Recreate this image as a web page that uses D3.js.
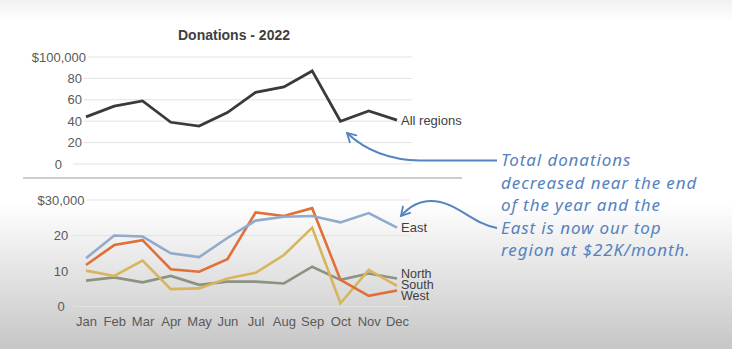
<!DOCTYPE html>
<html>
<head>
<meta charset="utf-8">
<script src="https://cdn.jsdelivr.net/npm/d3@7"></script>
<style>
  body { margin: 0; }
  svg { display: block; font-family: "Liberation Sans", Arial, sans-serif; }
</style>
</head>
<body>
<div class="chart"></div>
<script>
// ---------------- data ----------------
const months = ["Jan","Feb","Mar","Apr","May","Jun","Jul","Aug","Sep","Oct","Nov","Dec"]

// all regions, in $ thousands
const allRegions = [44, 54, 59, 39, 35.5, 48, 67, 72, 87, 40, 49.5, 41]
const topTicks = [0, 20, 40, 60, 80, 100]

// regions, in $ thousands
const east  = [13.6, 20, 19.7, 15, 13.9, 19.3, 24.2, 25.3, 25.5, 23.7, 26.3, 22.2]
const west  = [11.7, 17.3, 18.7, 10.5, 9.8, 13.3, 26.5, 25.5, 27.7, 7.5, 3, 4.5]
const south = [10.1, 8.6, 12.9, 4.9, 5.1, 7.9, 9.5, 14.5, 22.2, 0.9, 10.3, 5.8]
const north = [7.3, 8.2, 6.8, 8.6, 6.1, 7, 7, 6.5, 11.2, 7.5, 9.3, 7.9]
const bottomTicks = [0, 10, 20, 30]

const note = [
  "Total donations",
  "decreased near the end",
  "of the year and the",
  "East is now our top",
  "region at $22K/month."
]

// ---------------- layout ----------------
const width = 732
const height = 349

const svg = d3.select(".chart")
  .append("svg")
  .attr("width", width)
  .attr("height", height)

// video-ish background: white fading to grey
const defs = svg.append("defs")
const grad = defs.append("linearGradient")
  .attr("id", "bg")
  .attr("x1", 0).attr("y1", 0).attr("x2", 0).attr("y2", 1)
grad.append("stop").attr("offset", "0%").attr("stop-color", "#f1f1f1")
grad.append("stop").attr("offset", "6%").attr("stop-color", "#ffffff")
grad.append("stop").attr("offset", "58%").attr("stop-color", "#ffffff")
grad.append("stop").attr("offset", "100%").attr("stop-color", "#c6c6c6")

svg.append("rect")
  .attr("width", width)
  .attr("height", height)
  .attr("fill", "url(#bg)")

const xScale = d3.scalePoint()
  .domain(months)
  .range([86, 397])

const yTop = d3.scaleLinear()
  .domain([0, 100])
  .range([164, 57])

const yBottom = d3.scaleLinear()
  .domain([0, 30])
  .range([306.5, 200])

const gridColor = "#e2e2e2"
const tickColor = "#5a5a5a"

// ---------------- top chart ----------------
svg.append("text")
  .attr("x", 234)
  .attr("y", 40)
  .attr("text-anchor", "middle")
  .attr("font-size", 14)
  .attr("font-weight", "bold")
  .attr("fill", "#404040")
  .text("Donations - 2022")

const topGrid = svg.append("g")
topGrid.selectAll("line")
  .data(topTicks)
  .enter()
  .append("line")
  .attr("x1", 73)
  .attr("x2", 412)
  .attr("y1", (d) => yTop(d))
  .attr("y2", (d) => yTop(d))
  .attr("stroke", gridColor)
  .attr("stroke-width", 1)

// labels sit slightly unevenly in the original slide
topGrid.selectAll("text")
  .data(topTicks)
  .enter()
  .append("text")
  .attr("x", (d) => d === 0 ? 62 : (d === 100 ? 86 : 82))
  .attr("y", (d) => yTop(d) + 4.5)
  .attr("text-anchor", "end")
  .attr("font-size", 13)
  .attr("fill", tickColor)
  .attr("stroke", "#ffffff")
  .attr("stroke-width", 5)
  .attr("paint-order", "stroke")
  .text((d) => d === 100 ? "$100,000" : d)

const line = (yScale) => d3.line()
  .x((d, i) => xScale(months[i]))
  .y((d) => yScale(d))

svg.append("path")
  .datum(allRegions)
  .attr("d", line(yTop))
  .attr("fill", "none")
  .attr("stroke", "#3a3a3a")
  .attr("stroke-width", 2.8)

svg.append("text")
  .attr("x", 401)
  .attr("y", yTop(allRegions[11]) + 4.5)
  .attr("font-size", 13)
  .attr("fill", "#404040")
  .text("All regions")

// separator between the two charts
svg.append("line")
  .attr("x1", 23)
  .attr("x2", 462)
  .attr("y1", 178)
  .attr("y2", 178)
  .attr("stroke", "#bdbdbd")
  .attr("stroke-width", 1.5)

// ---------------- bottom chart ----------------
const botGrid = svg.append("g")
botGrid.selectAll("line")
  .data(bottomTicks)
  .enter()
  .append("line")
  .attr("x1", 73)
  .attr("x2", 410)
  .attr("y1", (d) => yBottom(d))
  .attr("y2", (d) => yBottom(d))
  .attr("stroke", gridColor)
  .attr("stroke-width", 1)

botGrid.selectAll("text")
  .data(bottomTicks)
  .enter()
  .append("text")
  .attr("x", 61)
  .attr("y", (d) => yBottom(d) + 4.5)
  .attr("text-anchor", "middle")
  .attr("font-size", 13)
  .attr("fill", tickColor)
  .attr("stroke", (d) => d === 30 ? "#ffffff" : "none")
  .attr("stroke-width", 5)
  .attr("paint-order", "stroke")
  .text((d) => d === 30 ? "$30,000" : d)

// x-axis month labels
const xAxis = d3.axisBottom(xScale).tickSize(0).tickPadding(0)
const gx = svg.append("g")
  .attr("transform", "translate(0, 317)")
  .call(xAxis)
gx.select(".domain").remove()
gx.selectAll("text")
  .attr("font-family", "Liberation Sans, Arial, sans-serif")
  .attr("font-size", 13)
  .attr("fill", tickColor)

const regions = [
  { name: "North", values: north, color: "#8c9382", labelY: 274 },
  { name: "South", values: south, color: "#d8b45c", labelY: 285 },
  { name: "West",  values: west,  color: "#e07038", labelY: 296 },
  { name: "East",  values: east,  color: "#90abcb", labelY: null }
]

svg.selectAll(".region")
  .data(regions)
  .enter()
  .append("path")
  .attr("class", "region")
  .attr("d", (d) => line(yBottom)(d.values))
  .attr("fill", "none")
  .attr("stroke", (d) => d.color)
  .attr("stroke-width", 2.6)

svg.selectAll(".region-label")
  .data(regions)
  .enter()
  .append("text")
  .attr("class", "region-label")
  .attr("x", 401)
  .attr("y", (d) => (d.labelY === null ? yBottom(d.values[11]) : d.labelY) + 4)
  .attr("font-size", (d) => d.labelY === null ? 13 : 12.5)
  .attr("fill", "#404040")
  .text((d) => d.name)

// ---------------- annotation ----------------
const noteColor = "#5583c0"

defs.append("marker")
  .attr("id", "head")
  .attr("viewBox", "0 0 10 10")
  .attr("refX", 8)
  .attr("refY", 5)
  .attr("markerWidth", 6)
  .attr("markerHeight", 6)
  .attr("orient", "auto")
  .append("path")
  .attr("d", "M1,1 L8,5 L1,9")
  .attr("fill", "none")
  .attr("stroke", noteColor)
  .attr("stroke-width", 1.5)
  .attr("stroke-linecap", "round")

svg.append("path")
  .attr("d", "M497,160.5 L420,160.5 C390,160 365,150 347,133")
  .attr("fill", "none")
  .attr("stroke", noteColor)
  .attr("stroke-width", 2)
  .attr("marker-end", "url(#head)")

svg.append("path")
  .attr("d", "M497,228 C472,224 456,201 431,201 C418,201 408,208 401,216")
  .attr("fill", "none")
  .attr("stroke", noteColor)
  .attr("stroke-width", 2)
  .attr("marker-end", "url(#head)")

svg.append("g")
  .selectAll("text")
  .data(note)
  .enter()
  .append("text")
  .attr("x", 501)
  .attr("y", (d, i) => 166 + i * 22.6)
  .attr("font-family", "Noto Sans, DejaVu Sans, sans-serif")
  .attr("font-style", "italic")
  .attr("font-size", 17)
  .attr("letter-spacing", 0.9)
  .attr("fill", noteColor)
  .text((d) => d)
</script>
</body>
</html>
